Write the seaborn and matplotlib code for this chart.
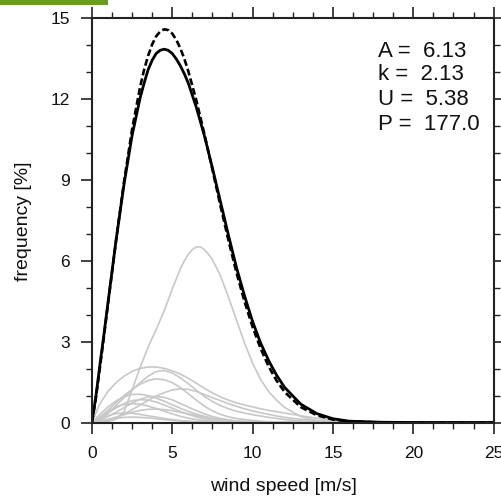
import matplotlib
matplotlib.use("Agg")
import matplotlib.pyplot as plt
import numpy as np
import pandas as pd
import seaborn as sns
from matplotlib.ticker import MultipleLocator
from matplotlib.patches import Rectangle

# ---------------- data ----------------
# wind speeds at which the two black curves were read
speed_main = [0, 0.25, 0.5, 0.75, 1, 1.5, 2, 2.5, 3, 3.25, 3.5, 3.75, 4, 4.25, 4.5,
              4.75, 5, 5.25, 5.5, 5.75, 6, 6.5, 7, 7.5, 8, 8.5, 9, 9.5, 10, 10.5,
              11, 11.5, 12, 13, 14, 15, 16, 18, 20, 25]
fit_dashed = [0, 0.93, 2.04, 3.2, 4.39, 6.74, 8.94, 10.88, 12.46, 13.1, 13.62, 14.04,
              14.34, 14.52, 14.6, 14.57, 14.44, 14.21, 13.9, 13.51, 13.04, 11.96, 10.71,
              9.39, 8.05, 6.76, 5.56, 4.49, 3.55, 2.75, 2.08, 1.55, 1.13, 0.57, 0.27,
              0.11, 0.04, 0, 0, 0]
sum_solid = [0, 0.98, 2.15, 3.28, 4.45, 6.75, 8.85, 10.65, 12.05, 12.6, 13.1, 13.45,
             13.7, 13.82, 13.86, 13.82, 13.7, 13.5, 13.25, 12.95, 12.6, 11.7, 10.65,
             9.45, 8.2, 6.95, 5.75, 4.7, 3.75, 2.95, 2.3, 1.75, 1.3, 0.68, 0.33,
             0.14, 0.05, 0.01, 0, 0]

# the large sector curve (read at a finer spacing around its peak)
speed_big = [0, 0.5, 1, 1.5, 2, 2.5, 3, 3.5, 4, 4.5, 5, 5.5, 5.75, 6, 6.25, 6.5, 6.75,
             7, 7.25, 7.5, 8, 8.5, 9, 9.5, 10, 10.5, 11, 11.5, 12, 13, 14, 15, 16, 18,
             20, 25]
sector_01 = [0, 0, 0.03, 0.12, 0.4, 1.2, 2.05, 2.8, 3.45, 4.15, 4.95, 5.7, 6.0, 6.24,
             6.42, 6.52, 6.52, 6.42, 6.25, 6.05, 5.45, 4.65, 3.8, 2.95, 2.2, 1.6, 1.15,
             0.82, 0.56, 0.22, 0.07, 0.02, 0, 0, 0, 0]

# the other sector curves
speed = [0, 0.5, 1, 1.5, 2, 2.5, 3, 3.5, 4, 4.5, 5, 5.5, 6, 6.5, 7, 7.5, 8, 8.5,
         9, 9.5, 10, 10.5, 11, 11.5, 12, 13, 14, 15, 16, 18, 20, 25]
sector_02 = [0, 0.7, 1.15, 1.48, 1.72, 1.9, 2.01, 2.06, 2.06, 2.01, 1.92, 1.8, 1.64, 1.46,
             1.27, 1.1, 0.95, 0.83, 0.73, 0.65, 0.58, 0.51, 0.45, 0.4, 0.35, 0.25, 0.16,
             0.09, 0.05, 0.01, 0, 0]
sector_03 = [0, 0.12, 0.35, 0.63, 0.92, 1.2, 1.48, 1.72, 1.89, 1.93, 1.84, 1.66, 1.44, 1.2,
             0.97, 0.78, 0.63, 0.51, 0.42, 0.35, 0.29, 0.24, 0.19, 0.15, 0.11, 0.06, 0.03,
             0.01, 0, 0, 0, 0]
sector_04 = [0, 0.2, 0.46, 0.74, 1.0, 1.23, 1.42, 1.56, 1.62, 1.59, 1.48, 1.3, 1.07, 0.83,
             0.61, 0.43, 0.3, 0.21, 0.15, 0.11, 0.08, 0.05, 0.03, 0.02, 0.01, 0, 0, 0, 0, 0, 0, 0]
sector_05 = [0, 0.02, 0.08, 0.18, 0.32, 0.48, 0.65, 0.82, 0.98, 1.11, 1.21, 1.25, 1.23, 1.15,
             1.04, 0.92, 0.81, 0.7, 0.6, 0.51, 0.43, 0.36, 0.3, 0.24, 0.19, 0.12, 0.07, 0.04,
             0.02, 0, 0, 0]
sector_06 = [0, 0.3, 0.58, 0.8, 0.96, 1.04, 1.05, 1.0, 0.91, 0.79, 0.66, 0.53, 0.41, 0.31,
             0.23, 0.16, 0.11, 0.07, 0.05, 0.03, 0.02, 0.01, 0, 0, 0, 0, 0, 0, 0, 0, 0, 0]
sector_07 = [0, 0.08, 0.22, 0.38, 0.55, 0.72, 0.86, 0.95, 0.97, 0.93, 0.84, 0.71, 0.57, 0.44,
             0.32, 0.22, 0.15, 0.1, 0.06, 0.04, 0.02, 0.01, 0, 0, 0, 0, 0, 0, 0, 0, 0, 0]
sector_08 = [0, 0.15, 0.35, 0.54, 0.7, 0.81, 0.85, 0.83, 0.76, 0.65, 0.53, 0.41, 0.3, 0.21,
             0.14, 0.09, 0.05, 0.03, 0.02, 0.01, 0, 0, 0, 0, 0, 0, 0, 0, 0, 0, 0, 0]
sector_09 = [0, 0.2, 0.42, 0.58, 0.67, 0.7, 0.68, 0.61, 0.52, 0.42, 0.32, 0.23, 0.16, 0.11,
             0.07, 0.04, 0.02, 0.01, 0, 0, 0, 0, 0, 0, 0, 0, 0, 0, 0, 0, 0, 0]
sector_10 = [0, 0.04, 0.11, 0.2, 0.29, 0.38, 0.45, 0.49, 0.5, 0.48, 0.44, 0.38, 0.32, 0.26,
             0.2, 0.15, 0.11, 0.08, 0.05, 0.03, 0.02, 0.01, 0, 0, 0, 0, 0, 0, 0, 0, 0, 0]
sector_11 = [0, 0.15, 0.26, 0.33, 0.35, 0.34, 0.3, 0.25, 0.2, 0.15, 0.11, 0.07, 0.05, 0.03,
             0.02, 0.01, 0, 0, 0, 0, 0, 0, 0, 0, 0, 0, 0, 0, 0, 0, 0, 0]
sector_12 = [0, 0.05, 0.11, 0.16, 0.19, 0.2, 0.19, 0.17, 0.14, 0.11, 0.08, 0.06, 0.04, 0.03,
             0.02, 0.01, 0, 0, 0, 0, 0, 0, 0, 0, 0, 0, 0, 0, 0, 0, 0, 0]

sector_curves = [(speed_big, sector_01), (speed, sector_02), (speed, sector_03),
                 (speed, sector_04), (speed, sector_05), (speed, sector_06),
                 (speed, sector_07), (speed, sector_08), (speed, sector_09),
                 (speed, sector_10), (speed, sector_11), (speed, sector_12)]

x_ticks = [0, 5, 10, 15, 20, 25]
x_tick_labels = ["0", "5", "10", "15", "20", "25"]
y_ticks = [0, 3, 6, 9, 12, 15]
y_tick_labels = ["0", "3", "6", "9", "12", "15"]

info_lines = ["A =  6.13", "k =  2.13", "U =  5.38", "P =  177.0"]

# ---------------- figure ----------------
sns.set_style("ticks")
plt.rcParams['font.family'] = ['Liberation Sans', 'DejaVu Sans']

W, H = 502, 498
fig = plt.figure(figsize=(W / 100, H / 100), dpi=100)
x0, x1, ytop, ybot = 91.9, 493.6, 18.5, 422.5
ax = fig.add_axes([x0 / W, 1 - ybot / H, (x1 - x0) / W, (ybot - ytop) / H])

frames = []
for i, (xs, ys) in enumerate(sector_curves):
    frames.append(pd.DataFrame({"speed": xs, "freq": ys, "sector": i}))
gray_df = pd.concat(frames, ignore_index=True)

sns.lineplot(data=gray_df, x="speed", y="freq", units="sector", estimator=None,
             color="#c8c8c8", lw=1.2, ax=ax, legend=False)
sns.lineplot(x=speed_main, y=sum_solid, color="black", lw=2.0, ax=ax)
sns.lineplot(x=speed_main, y=fit_dashed, color="black", lw=1.9,
             linestyle=(0, (2.6, 1.2)), ax=ax)

ax.set_xlim(0, 25)
ax.set_ylim(0, 15)
ax.set_xticks(x_ticks)
ax.set_xticklabels(x_tick_labels)
ax.set_yticks(y_ticks)
ax.set_yticklabels(y_tick_labels)
ax.xaxis.set_minor_locator(MultipleLocator(1.25))
ax.yaxis.set_minor_locator(MultipleLocator(1))
ax.set_xlabel("")
ax.set_ylabel("")

for sp in ax.spines.values():
    sp.set_visible(True)
    sp.set_linewidth(1.5)
    sp.set_color("#222222")

ax.tick_params(which="major", direction="out", length=8, width=1.2, top=True,
               right=True, labelsize=12.5, color="#222222", labelcolor="#111111")
ax.tick_params(which="minor", direction="out", length=4, width=1.0, top=True,
               right=True, color="#222222")
ax.tick_params(axis="x", which="major", pad=9)
ax.tick_params(axis="y", which="major", pad=8)

fig.text(283 / W, 1 - 491 / H, "wind speed [m/s]", fontsize=14, ha="center",
         va="baseline", color="#111111")
fig.text(24 / W, 1 - 221 / H, "frequency [%]", fontsize=14, ha="center",
         va="center", rotation=90, color="#111111")

baselines = [56.7, 80.5, 105, 129.5]
for txt, yb in zip(info_lines, baselines):
    fig.text(378 / W, 1 - yb / H, txt, fontsize=16, ha="left", va="baseline",
             color="#111111")

fig.patches.append(Rectangle((0, 1 - 5 / H), 108 / W, 5 / H, transform=fig.transFigure,
                             facecolor="#6b9b27", edgecolor="none", zorder=10))

fig.savefig("out.png", dpi=100)
